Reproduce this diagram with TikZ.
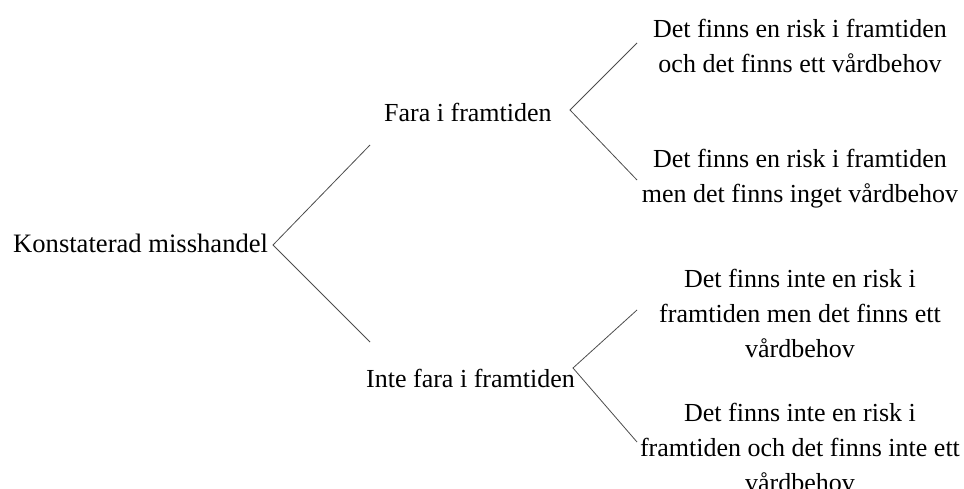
\documentclass[tikz,border=0pt]{standalone}
\usepackage{fontspec}
\setmainfont{Liberation Serif}
\begin{document}
\begin{tikzpicture}[x=1pt,y=-1pt,
  lbl/.style={inner sep=0pt,font=\fontsize{26}{35}\selectfont,text=black},
  blk/.style={lbl,align=center,anchor=base},
  conn/.style={draw=black!70,line width=0.8pt}]
\useasboundingbox (0,0) rectangle (964,489);
% text nodes
\node[lbl,anchor=base west,font=\fontsize{26.6}{35}\selectfont] (root) at (13,253) {Konstaterad misshandel};
\node[lbl,anchor=base west] (fara) at (384,122) {Fara i framtiden};
\node[lbl,anchor=base west] (inte) at (366,387) {Inte fara i framtiden};
\node[blk] (a1) at (800,73) {Det finns en risk i framtiden\\och det finns ett vårdbehov};
\node[blk] (a2) at (800,203) {Det finns en risk i framtiden\\men det finns inget vårdbehov};
\node[blk] (b1) at (800,357) {Det finns inte en risk i\\framtiden men det finns ett\\vårdbehov};
\node[blk] (b2) at (800,491) {Det finns inte en risk i\\framtiden och det finns inte ett\\vårdbehov};
% connector end points
\coordinate (rv) at (273,245);
\coordinate (ru) at (370,145);
\coordinate (rd) at (370,342);
\coordinate (fv) at (570,110);
\coordinate (fu) at (637,43);
\coordinate (fd) at (637,180);
\coordinate (iv) at (573,368);
\coordinate (iu) at (637,310);
\coordinate (id) at (637,442);
% connectors
\draw[conn] (ru) -- (rv) -- (rd);
\draw[conn] (fu) -- (fv) -- (fd);
\draw[conn] (iu) -- (iv) -- (id);
\end{tikzpicture}
\end{document}
